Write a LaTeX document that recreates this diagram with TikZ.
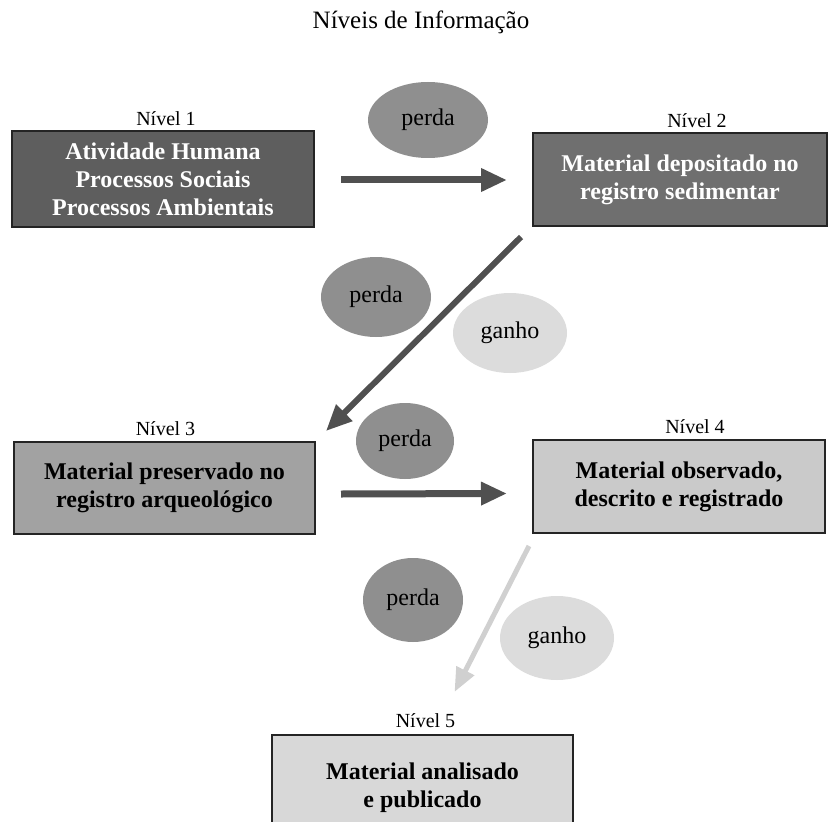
\documentclass[tikz,border=0pt]{standalone}
\usepackage{fontspec}
\setmainfont{Liberation Serif}
\usetikzlibrary{arrows.meta,shapes.geometric,calc}

\definecolor{fillA}{HTML}{5E5E5E}
\definecolor{fillB}{HTML}{6F6F6F}
\definecolor{fillC}{HTML}{A2A2A2}
\definecolor{fillD}{HTML}{CACACA}
\definecolor{fillE}{HTML}{D8D8D8}
\definecolor{lossfill}{HTML}{8F8F8F}
\definecolor{gainfill}{HTML}{DCDCDC}
\definecolor{darkarrow}{HTML}{505050}
\definecolor{lightarrow}{HTML}{D0D0D0}
\definecolor{edge}{HTML}{242424}

\tikzset{
  levelbox/.style={draw=edge, line width=2pt, rectangle, align=center,
    font=\fontsize{24}{28}\selectfont\bfseries, inner sep=0pt},
  levellabel/.style={font=\fontsize{20}{22}\selectfont, inner sep=0pt},
  loss/.style={ellipse, fill=lossfill, inner sep=0pt,
    font=\fontsize{24}{26}\selectfont},
  gain/.style={ellipse, fill=gainfill, inner sep=0pt,
    font=\fontsize{24}{26}\selectfont},
  flow/.style={line width=7pt, color=darkarrow,
    -{Triangle[length=26pt,width=22pt]}},
  lightflow/.style={line width=5pt, color=lightarrow,
    -{Triangle[length=24pt,width=19pt]}},
}

\begin{document}
\begin{tikzpicture}[x=1pt,y=-1pt]
  \useasboundingbox (0,0) rectangle (829,821);
  \clip (0,0) rectangle (829,821);

  % title
  \node[font=\fontsize{25}{27}\selectfont] (title) at (421,22) {Níveis de Informação};

  % level boxes
  \node[levelbox, fill=fillA, text=white, minimum width=302, minimum height=96]
    (n1) at (163,179) {Atividade Humana\\Processos Sociais\\Processos Ambientais};
  \node[levelbox, fill=fillB, text=white, minimum width=294, minimum height=93]
    (n2) at (680,179.5) {Material depositado no\\registro sedimentar};
  \node[levelbox, fill=fillC, minimum width=301, minimum height=92]
    (n3) at (164.5,488) {Material preservado no\\registro arqueológico};
  \node[levelbox, fill=fillD, minimum width=292, minimum height=93]
    (n4) at (679,486.5) {Material observado,\\descrito e registrado};
  \node[levelbox, fill=fillE, minimum width=301, minimum height=106, anchor=north]
    (n5) at (422.5,734) {Material analisado\\e publicado};

  % level captions
  \node[levellabel, anchor=south] (l1) at ($(n1.north)+(3,-4)$) {Nível 1};
  \node[levellabel, anchor=south] (l2) at ($(n2.north)+(17,-4)$) {Nível 2};
  \node[levellabel, anchor=south] (l3) at ($(n3.north)+(1,-5)$) {Nível 3};
  \node[levellabel, anchor=south] (l4) at ($(n4.north)+(16,-5)$) {Nível 4};
  \node[levellabel, anchor=south] (l5) at ($(n5.north)+(3,-6)$) {Nível 5};

  % loss / gain ellipses
  \node[loss, minimum width=120, minimum height=76] (p1) at (428,120) {perda};
  \node[loss, minimum width=110, minimum height=80] (p2) at (376,297) {perda};
  \node[gain, minimum width=114, minimum height=80] (g2) at (510,333) {ganho};
  \node[loss, minimum width=98, minimum height=76] (p3) at (405,441) {perda};
  \node[loss, minimum width=100, minimum height=84] (p4) at (413,600) {perda};
  \node[gain, minimum width=114, minimum height=84] (g4) at (557,638) {ganho};

  % flows between levels
  \coordinate (a12s) at ($(n1.east)+(26,1)$);
  \coordinate (a12e) at ($(n2.west)+(-25,0.5)$);
  \draw[flow] (a12s) -- (a12e);

  \coordinate (a23s) at ($(n2.south west)+(-11,10)$);
  \coordinate (a23e) at ($(n3.north east)+(10,-10)$);
  \draw[flow, line width=6pt] (a23s) -- (a23e);

  \coordinate (a34s) at ($(n3.east)+(25,6)$);
  \coordinate (a34e) at ($(n4.west)+(-25,7)$);
  \draw[flow] (a34s) -- (a34e);

  \coordinate (a45s) at ($(n4.south west)+(-3,12)$);
  \coordinate (a45e) at ($(n5.north)+(32,-42)$);
  \draw[lightflow] (a45s) -- (a45e);
\end{tikzpicture}
\end{document}
